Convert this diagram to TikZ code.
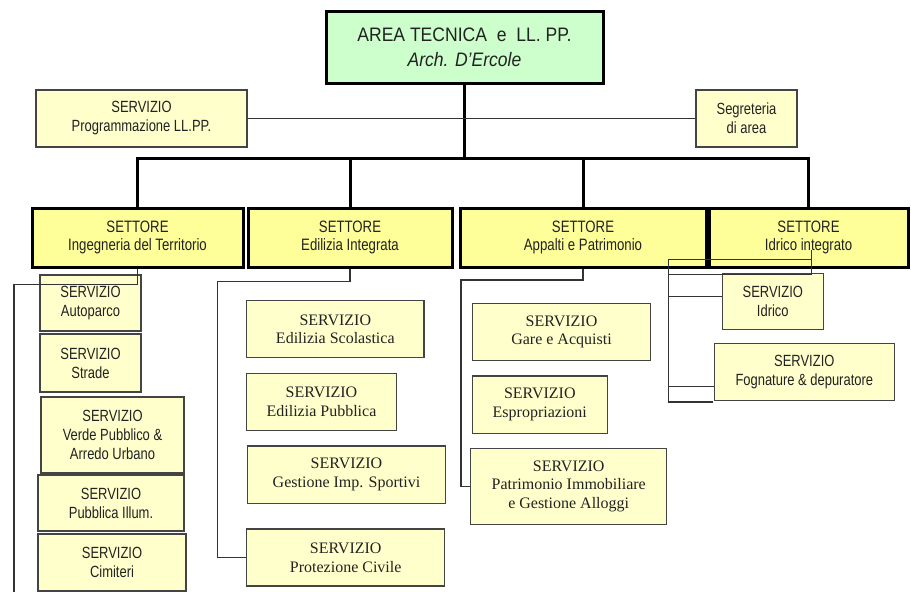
\documentclass[tikz,border=0pt]{standalone}
\usepackage{fontspec}
\newfontfamily\nsans[FakeStretch=0.8]{Liberation Sans}
\newfontfamily\wsans[FakeStretch=0.9]{Liberation Sans}
\newfontfamily\tserif{Liberation Serif}
\definecolor{topgreen}{HTML}{CCFFCC}
\definecolor{sectyellow}{HTML}{FFFF99}
\definecolor{svcfill}{HTML}{FFFFCC}
\definecolor{svcline}{HTML}{444444}
\definecolor{connline}{HTML}{333333}
\definecolor{txt}{HTML}{222222}
\begin{document}
\begin{tikzpicture}[x=1pt,y=-1pt,
  topbox/.style={draw=black, line width=3pt, fill=topgreen, inner sep=0pt, align=center, text=txt, font=\wsans\fontsize{19.5}{25}\selectfont},
  sectbox/.style={draw=black, line width=3pt, fill=sectyellow, inner sep=0pt, align=center, text=txt, font=\nsans\fontsize{16.5}{18.7}\selectfont},
  svcA/.style={draw=svcline, line width=1.2pt, fill=svcfill, inner sep=0pt, align=center, text=txt, font=\nsans\fontsize{16.2}{19}\selectfont},
  svcT/.style={draw=svcline, line width=1.3pt, fill=svcfill, inner sep=0pt, align=center, text=txt, font=\tserif\fontsize{16}{18.8}\selectfont},
  heavy/.style={line width=3pt, draw=black},
  conn/.style={line width=1.2pt, draw=connline}]
\fill[white] (0,0) rectangle (911,592);
\useasboundingbox (0,0) rectangle (911,592);

% top
\node[topbox, minimum width=277pt, minimum height=72pt] (top) at (464.5,47) {AREA TECNICA\hspace{0.5em}e\hspace{0.5em}LL. PP.\\ \itshape Arch. D’Ercole};
\node[svcA, minimum width=211pt, minimum height=57pt] (prog) at (141.5,118.5) {SERVIZIO\\Programmazione LL.PP.};
\node[svcA, minimum width=101pt, minimum height=57pt] (seg) at (746.5,118.5) {Segreteria\\di area};

% sectors
\node[sectbox, minimum width=211pt, minimum height=59pt] (s1) at (137.5,237.5) {SETTORE\\Ingegneria del Territorio};
\node[sectbox, minimum width=204pt, minimum height=59pt] (s2) at (350,237.5) {SETTORE\\Edilizia Integrata};
\node[sectbox, minimum width=246pt, minimum height=59pt] (s3) at (583,237.5) {SETTORE\\Appalti e Patrimonio};
\node[sectbox, minimum width=199pt, minimum height=59pt] (s4) at (808.5,237.5) {SETTORE\\Idrico integrato};

% Ingegneria services
\node[svcA, minimum width=101pt, minimum height=56pt] (a1) at (90.5,303) {SERVIZIO\\Autoparco};
\node[svcA, minimum width=101pt, minimum height=58pt] (a2) at (90.5,363) {SERVIZIO\\Strade};
\node[svcA, minimum width=143pt, minimum height=76pt] (a3) at (112.5,435) {SERVIZIO\\Verde Pubblico \&\\Arredo Urbano};
\node[svcA, minimum width=146pt, minimum height=56pt] (a4) at (111,503) {SERVIZIO\\Pubblica Illum.};
\node[svcA, minimum width=148pt, minimum height=57pt] (a5) at (112,562.5) {SERVIZIO\\Cimiteri};

% Edilizia services
\node[svcT, minimum width=177.3pt, minimum height=57pt] (e1) at (335.3,329.2) {SERVIZIO\\Edilizia Scolastica};
\node[svcT, minimum width=149.6pt, minimum height=57.4pt] (e2) at (321.5,402) {SERVIZIO\\Edilizia Pubblica};
\node[svcT, minimum width=198.4pt, minimum height=57.3pt] (e3) at (346.5,474.7) {SERVIZIO\\Gestione Imp. Sportivi};
\node[svcT, minimum width=198pt, minimum height=57pt] (e4) at (345.7,557.5) {SERVIZIO\\Protezione Civile};

% Appalti services
\node[svcT, minimum width=178.4pt, minimum height=57.4pt] (p1) at (561.5,332) {SERVIZIO\\Gare e Acquisti};
\node[svcT, minimum width=135pt, minimum height=57.3pt] (p2) at (539.8,404.7) {SERVIZIO\\Espropriazioni};
\node[svcT, minimum width=196pt, minimum height=76pt] (p3) at (568.7,486.3) {SERVIZIO\\Patrimonio Immobiliare\\e Gestione Alloggi};

% Idrico services
\node[svcA, minimum width=101pt, minimum height=56pt] (i1) at (772.8,301.3) {SERVIZIO\\Idrico};
\node[svcA, minimum width=180pt, minimum height=57.4pt] (i2) at (804.3,372) {SERVIZIO\\Fognature \& depuratore};

% main tree
\coordinate (bus) at (464.5,158);
\draw[heavy] (top.south) -- (bus);
\draw[heavy, line cap=rect] (s1.north |- bus) -- (s4.north |- bus);
\draw[heavy] (s1.north |- bus) -- (s1.north);
\draw[heavy] (s2.north |- bus) -- (s2.north);
\draw[heavy] (s3.north |- bus) -- (s3.north);
\draw[heavy] (s4.north |- bus) -- (s4.north);
\draw[conn] (prog.east) -- (seg.west);

% Ingegneria connector
\coordinate (k1) at (14,284.3);
\coordinate (k1end) at (14,592);
\draw[conn] (s1.south) |- (k1) -- (k1end);

% Edilizia connector
\coordinate (k2) at (217.7,281.7);
\draw[conn] (s2.south) |- (k2) |- (e4.west);

% Appalti connector
\coordinate (k3) at (461,280);
\draw[conn] (s3.south) |- (k3) |- (p3.west);

% Idrico connectors
\coordinate (j0) at (811.7,250);
\coordinate (j1) at (811.7,274.3);
\coordinate (j2) at (668.3,274.3);
\coordinate (j3) at (668.3,259.3);
\coordinate (j4) at (811.7,259.3);
\coordinate (j5) at (668.3,402);
\draw[conn] (j0) -- (j1) -- (j2);
\draw[conn] (j4) -- (j3) -- (j5) -- ([xshift=-1pt,yshift=-30pt]i2.west);
\draw[conn] ([yshift=4.6pt]i1.west) -- ([yshift=4.6pt]i1.west -| j3);
\draw[conn] ([yshift=-14.7pt]i2.west) -- ([yshift=-14.7pt]i2.west -| j3);
\end{tikzpicture}
\end{document}
